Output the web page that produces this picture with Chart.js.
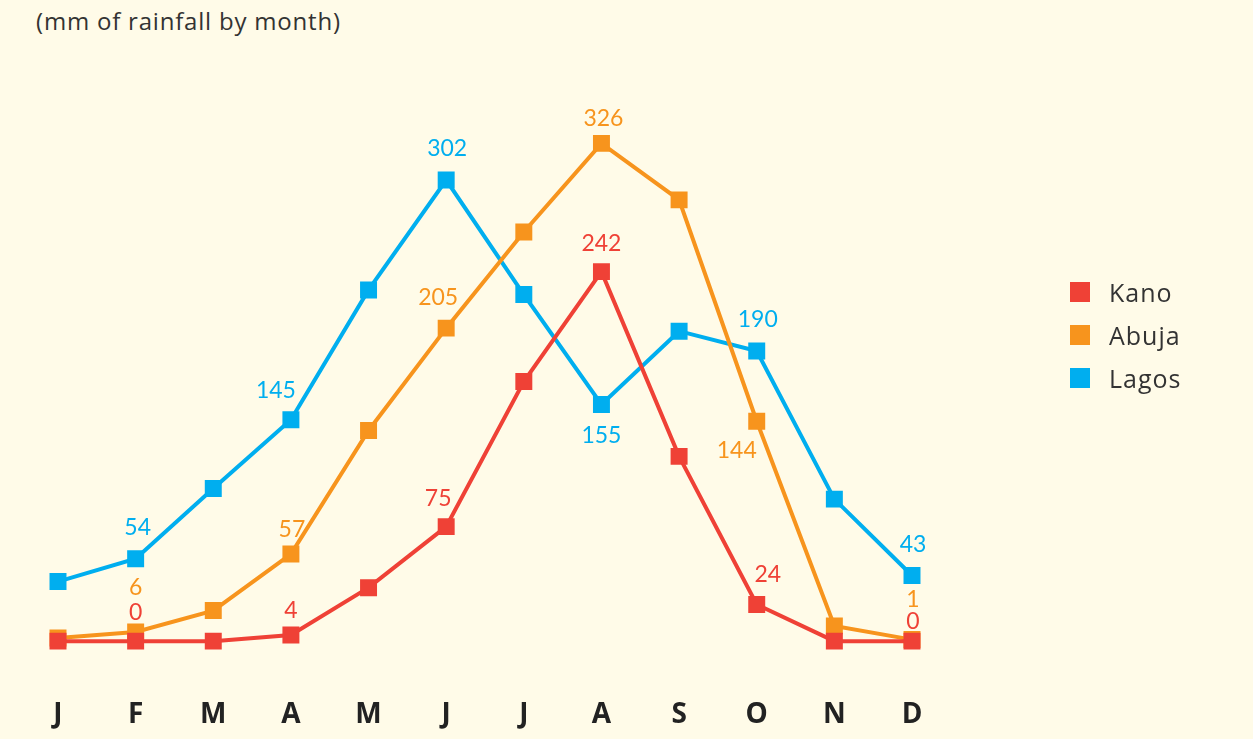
<!DOCTYPE html>
<html>
<head>
<meta charset="utf-8">
<script src="https://cdn.jsdelivr.net/npm/chart.js@4"></script>
<style>
  html, body { margin: 0; padding: 0; background: #fffbe8; }
  #wrap { position: relative; width: 1253px; height: 739px; overflow: hidden; }
  #sub { position: absolute; left: 36px; top: 4px; font: 24px "Open Sans", sans-serif; letter-spacing: 0.8px; color: #333; }
  #legend { position: absolute; left: 1070px; top: 270px; font: 25px "Open Sans", sans-serif; letter-spacing: 1px; color: #333; }
  #legend div { height: 43px; display: flex; align-items: center; }
  #legend span { display: inline-block; width: 20px; height: 20px; margin-right: 19px; }
  canvas { position: absolute; left: 0; top: 0; }
</style>
</head>
<body>
<div id="wrap">
  <div id="sub">(mm of rainfall by month)</div>
  <canvas id="c" width="1253" height="778"></canvas>
  <div id="legend"></div>
</div>
<script>
const months = ['J', 'F', 'M', 'A', 'M', 'J', 'J', 'A', 'S', 'O', 'N', 'D'];
const kano  = [0, 0, 0, 4, 35, 75, 170, 242, 121, 24, 0, 0];
const abuja = [2, 6, 20, 57, 138, 205, 268, 326, 289, 144, 10, 1];
const lagos = [39, 54, 100, 145, 230, 302, 227, 155, 203, 190, 93, 43];

const seriesNames = ['Kano', 'Abuja', 'Lagos'];
const colors = ['#ef4136', '#f7941d', '#00aeef'];

// label offsets (dx, dy) for the points that get a value label
const labelOffsets = [
  { 1: [0, -29], 3: [0, -24], 5: [-8, -28], 7: [0, -28], 9: [11, -30], 11: [1, -20] },
  { 1: [0, -44], 3: [1, -25], 5: [-8, -31], 7: [2, -25], 9: [-20, 29], 11: [1, -40] },
  { 1: [2, -31], 3: [-15, -29], 5: [1, -31], 7: [0, 31], 9: [1, -31], 11: [1, -31] }
];

const valueLabels = {
  id: 'valueLabels',
  afterDatasetsDraw(chart) {
    const ctx = chart.ctx;
    ctx.save();
    ctx.font = '23px Lato, sans-serif';
    ctx.textAlign = 'center';
    ctx.textBaseline = 'middle';
    chart.data.datasets.forEach((ds, i) => {
      const meta = chart.getDatasetMeta(i);
      ctx.fillStyle = colors[i];
      Object.keys(labelOffsets[i]).forEach(k => {
        const pt = meta.data[k];
        const off = labelOffsets[i][k];
        ctx.fillText(ds.data[k], pt.x + off[0], pt.y + off[1]);
      });
    });
    ctx.restore();
  }
};

const data = [kano, abuja, lagos];
new Chart(document.getElementById('c'), {
  type: 'line',
  data: {
    labels: months,
    datasets: data.map((d, i) => ({
      label: seriesNames[i],
      data: d,
      borderColor: colors[i],
      backgroundColor: colors[i],
      borderWidth: 4,
      pointStyle: 'rect',
      pointRadius: 12,
      pointBorderWidth: 0,
      tension: 0
    }))
  },
  options: {
    responsive: false,
    animation: false,
    layout: { padding: { left: 58, right: 341, top: 122, bottom: 4 } },
    plugins: { legend: { display: false }, tooltip: { enabled: false } },
    scales: {
      x: {
        offset: false,
        grid: { display: false, drawTicks: false },
        border: { display: false },
        ticks: { color: '#222', padding: 42, font: { family: 'Open Sans', size: 28, weight: 'bold' } }
      },
      y: { display: false, min: -10, max: 340 }
    }
  },
  plugins: [valueLabels]
});

const legend = document.getElementById('legend');
seriesNames.forEach((n, i) => {
  const row = document.createElement('div');
  row.innerHTML = '<span style="background:' + colors[i] + '"></span>' + n;
  legend.appendChild(row);
});
</script>
</body>
</html>
